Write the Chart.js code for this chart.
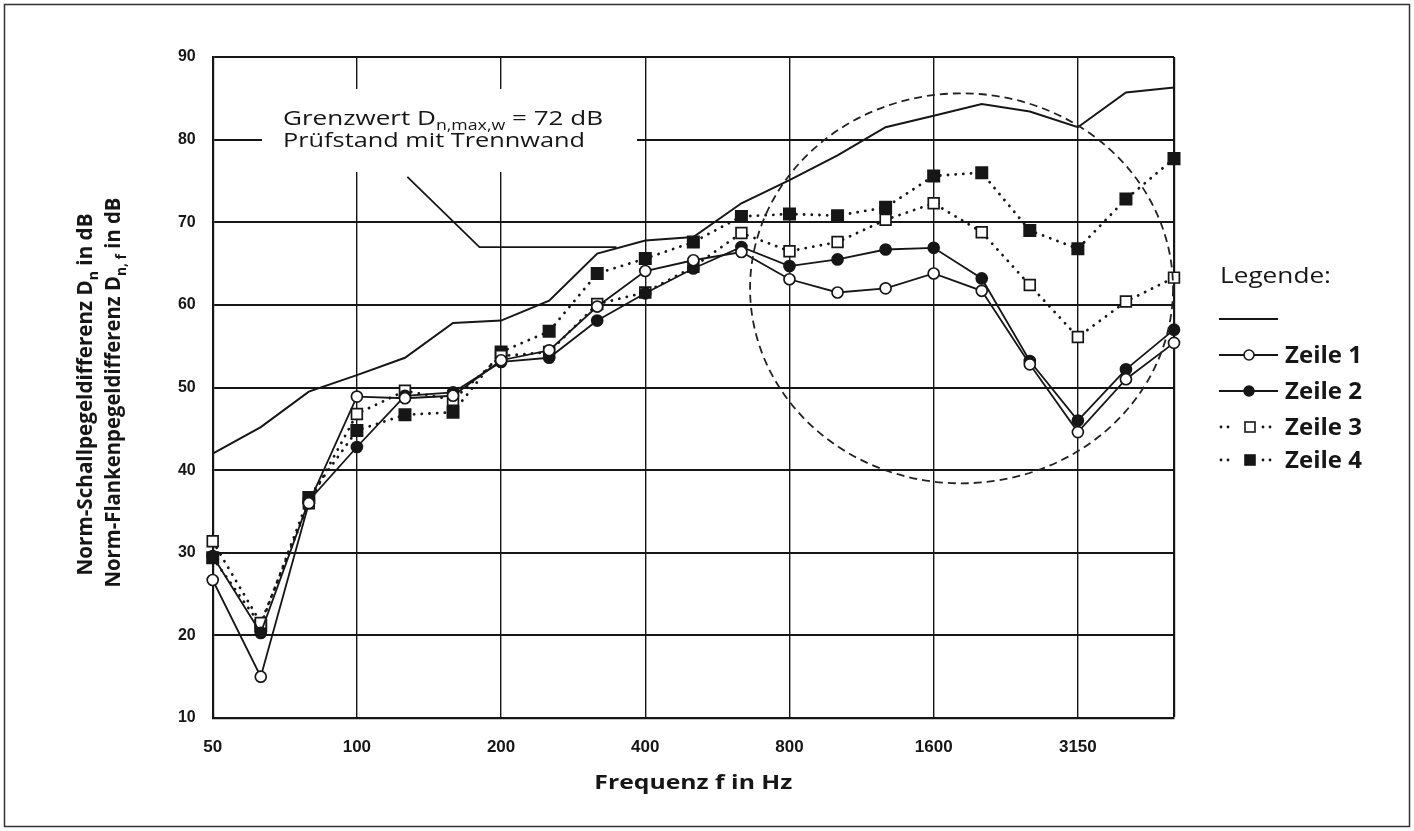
<!DOCTYPE html>
<html>
<head>
<meta charset="utf-8">
<script src="https://cdn.jsdelivr.net/npm/chart.js@4/dist/chart.umd.min.js"></script>
<style>
html,body{margin:0;padding:0;background:#fff;}
#wrap{width:1414px;height:831px;position:relative;}
canvas{display:block;}
</style>
</head>
<body>
<div id="wrap"><canvas id="c" width="1414" height="831"></canvas></div>
<script>
// ---- data (third-octave band centre frequencies) ----
const categories = ['50','63','80','100','125','160','200','250','315','400','500','630','800','1000','1250','1600','2000','2500','3150','4000','5000'];
const shownTickLabels = ['50','100','200','400','800','1600','3150'];
const yTicks = [10,20,30,40,50,60,70,80,90];

const grenzwert = [42.0,45.2,49.5,51.5,53.6,57.8,58.1,60.5,66.2,67.8,68.2,72.3,75.1,78.1,81.5,82.9,84.3,83.4,81.5,85.7,86.3];
const zeile1    = [26.7,15.0,36.0,48.9,48.7,49.0,53.3,54.5,59.8,64.1,65.4,66.4,63.1,61.5,62.0,63.8,61.7,52.8,44.6,51.0,55.4];
const zeile2    = [29.6,20.3,36.3,42.8,49.0,49.4,53.1,53.6,58.1,61.4,64.4,67.0,64.7,65.5,66.7,66.9,63.2,53.2,46.0,52.2,57.0];
const zeile3    = [31.4,21.5,36.0,46.8,49.6,48.5,53.8,54.3,60.1,61.5,64.6,68.7,66.5,67.6,70.3,72.3,68.8,62.4,56.1,60.4,63.3];
const zeile4    = [29.4,21.2,36.7,44.8,46.7,47.0,54.3,56.8,63.8,65.6,67.6,70.7,71.0,70.8,71.8,75.6,76.0,69.0,66.8,72.8,77.7];

// annotation leader line (band index, dB)
const leaderX = [4.05, 5.55, 8.4];
const leaderY = [75.5, 67.0, 67.0];
// highlighted region (dashed ellipse): centre band index, centre dB, radii
const highlight = {cx: 15.58, cy: 62.0, rx: 4.4, ry: 23.6};

const annoLine1 = [{t:'Grenzwert D'},{t:'n,max,w',sub:true},{t:' = 72 dB'}];
const annoLine2 = [{t:'Prüfstand mit Trennwand'}];
const yTitle1 = [{t:'Norm-Schallpegeldifferenz D'},{t:'n',sub:true},{t:' in dB'}];
const yTitle2 = [{t:'Norm-Flankenpegeldifferenz D'},{t:'n, f',sub:true},{t:' in dB'}];
const xTitle = [{t:'Frequenz f in Hz'}];
const legendTitle = 'Legende:';
const legendNames = ['Zeile 1','Zeile 2','Zeile 3','Zeile 4'];

// ---- helpers ----
const INK = '#161616';
const tickIdx = shownTickLabels.map(l => categories.indexOf(l)).concat([categories.length-1]);
const toXY = arr => arr.map((v,i)=>({x:i,y:v}));

function fontStr(size, weight, family){ return `${weight} ${size}px ${family}`; }
function richWidth(ctx, segs, size, weight, family){
  let w=0;
  for(const s of segs){ ctx.font = fontStr(s.sub? size*0.68 : size, weight, family); w += ctx.measureText(s.t).width; }
  return w;
}
function drawRich(ctx, segs, x, y, size, weight, family, targetW, sy){
  const w = richWidth(ctx, segs, size, weight, family);
  const sx = targetW ? targetW / w : 1;
  ctx.save();
  ctx.translate(x, y);
  ctx.scale(sx, sy || 1);
  ctx.textAlign='left'; ctx.textBaseline='alphabetic';
  let cx = 0;
  for(const s of segs){
    const fs = s.sub? size*0.68 : size;
    ctx.font = fontStr(fs, weight, family);
    ctx.fillText(s.t, cx, s.sub ? size*0.27 : 0);
    cx += ctx.measureText(s.t).width;
  }
  ctx.restore();
}

const styles = [
  {label:legendNames[0], data:zeile1, dotted:false, pointStyle:'circle', radius:5.5, fill:'#fff'},
  {label:legendNames[1], data:zeile2, dotted:false, pointStyle:'circle', radius:5.5, fill:INK},
  {label:legendNames[2], data:zeile3, dotted:true,  pointStyle:'rect',   radius:7.6, fill:'#fff'},
  {label:legendNames[3], data:zeile4, dotted:true,  pointStyle:'rect',   radius:8.0, fill:INK},
];

const datasets = styles.map(s => ({
  label: s.label,
  data: toXY(s.data),
  borderColor: INK,
  borderWidth: s.dotted ? 2.8 : 1.8,
  borderDash: s.dotted ? [0.1, 7.6] : [],
  borderCapStyle: s.dotted ? 'round' : 'butt',
  pointStyle: s.pointStyle,
  pointRadius: s.radius,
  pointBackgroundColor: s.fill,
  pointBorderColor: INK,
  pointBorderWidth: 1.7,
  tension: 0,
  fill: false,
  clip: false
}));
datasets.push({
  label:'Grenzwert', data: toXY(grenzwert), borderColor: INK, borderWidth: 2.0,
  pointRadius: 0, tension: 0, fill:false, clip: false
});
datasets.push({
  label:'leader', data: leaderX.map((x,i)=>({x, y:leaderY[i]})), borderColor: INK, borderWidth: 1.8,
  pointRadius: 0, tension: 0, fill:false, clip: false
});

const decor = {
  id: 'decor',
  beforeDatasetsDraw(chart){
    const ctx = chart.ctx;
    // white box behind annotation text (covers grid)
    ctx.save();
    ctx.fillStyle = '#fff';
    ctx.fillRect(262, 89, 375, 83);
    ctx.fillStyle = INK;
    drawRich(ctx, annoLine1, 283, 125, 20, 'normal', '"Open Sans"', 320);
    drawRich(ctx, annoLine2, 283, 147, 20, 'normal', '"Open Sans"', 302);
    ctx.restore();
  },
  afterDatasetsDraw(chart){
    const ctx = chart.ctx, xs = chart.scales.x, ys = chart.scales.y;
    const cx = xs.getPixelForValue(highlight.cx), cy = ys.getPixelForValue(highlight.cy);
    const rx = Math.abs(xs.getPixelForValue(highlight.cx + highlight.rx) - cx);
    const ry = Math.abs(ys.getPixelForValue(highlight.cy + highlight.ry) - cy);
    ctx.save();
    ctx.strokeStyle = '#222'; ctx.lineWidth = 1.8; ctx.setLineDash([8,5]);
    ctx.beginPath(); ctx.ellipse(cx, cy, rx, ry, 0, 0, Math.PI*2); ctx.stroke();
    ctx.restore();
  },
  afterDraw(chart){
    const ctx = chart.ctx, ca = chart.chartArea;
    ctx.save();
    ctx.fillStyle = INK;
    // y-axis title (two rotated lines)
    const cyT = (ca.top + ca.bottom)/2 + 7;
    ctx.save(); ctx.translate(92, cyT); ctx.rotate(-Math.PI/2);
    drawRich(ctx, yTitle1, -181, 0, 19, 'bold', '"Open Sans"', 362, 1.15);
    ctx.restore();
    ctx.save(); ctx.translate(120, cyT - 2); ctx.rotate(-Math.PI/2);
    drawRich(ctx, yTitle2, -195, 0, 19, 'bold', '"Open Sans"', 390, 1.15);
    ctx.restore();
    // x-axis title
    const cxT = (ca.left + ca.right)/2;
    drawRich(ctx, xTitle, cxT - 99, 789, 19, 'bold', '"Open Sans"', 198);
    // legend
    drawRich(ctx, [{t:legendTitle}], 1220, 283, 21, 'normal', '"Open Sans"', 111);
    ctx.strokeStyle = INK; ctx.lineWidth = 2;
    ctx.beginPath(); ctx.moveTo(1219, 319); ctx.lineTo(1278, 319); ctx.stroke();
    const baselines = [363, 399, 435, 468];
    styles.forEach((s, i) => {
      const yb = baselines[i], yc = yb - 8;
      ctx.save();
      ctx.strokeStyle = INK;
      if (s.dotted){
        ctx.fillStyle = INK;
        [1221, 1228, 1263, 1270].forEach(px => { ctx.beginPath(); ctx.arc(px, yc, 1.4, 0, Math.PI*2); ctx.fill(); });
        ctx.lineWidth = 1.6;
        const h = 5;
        ctx.fillStyle = s.fill;
        ctx.fillRect(1250 - h, yc - h, 2*h, 2*h);
        ctx.strokeRect(1250 - h, yc - h, 2*h, 2*h);
      } else {
        ctx.lineWidth = 1.8;
        ctx.beginPath(); ctx.moveTo(1219, yc); ctx.lineTo(1278, yc); ctx.stroke();
        ctx.fillStyle = s.fill; ctx.lineWidth = 1.6;
        ctx.beginPath(); ctx.arc(1249, yc, 5, 0, Math.PI*2); ctx.fill(); ctx.stroke();
      }
      ctx.restore();
      ctx.save(); ctx.fillStyle = INK;
      drawRich(ctx, [{t:s.label}], 1285, yb, 23, 'bold', '"Open Sans"', 77);
      ctx.restore();
    });
    // outer frame
    ctx.strokeStyle = '#333'; ctx.lineWidth = 1.5; ctx.setLineDash([]);
    ctx.strokeRect(4.5, 4.5, 1405, 822);
    ctx.restore();
  }
};

new Chart(document.getElementById('c'), {
  type: 'line',
  data: { datasets },
  options: {
    responsive: false, animation: false, devicePixelRatio: 1,
    layout: { padding: { left: 0, right: 240, top: 57, bottom: 0 } },
    plugins: { legend: { display: false }, tooltip: { enabled: false } },
    scales: {
      x: {
        type: 'linear', min: 0, max: categories.length - 1,
        afterBuildTicks: s => { s.ticks = tickIdx.map(v => ({ value: v })); },
        afterFit: s => { s.height = 113; },
        ticks: {
          autoSkip: false, maxRotation: 0, padding: 19, color: INK,
          font: { family: '"Liberation Sans"', weight: 'bold', size: 17 },
          callback: v => { const i = tickIdx.indexOf(v); return i >= 0 && i < shownTickLabels.length ? shownTickLabels[i] : ''; }
        },
        grid: { color: INK, lineWidth: c => (c.index === tickIdx.length - 1 ? 2.2 : 1.4), drawTicks: false },
        border: { display: true, color: INK, width: 2.2 }
      },
      y: {
        min: 10, max: 90,
        afterBuildTicks: s => { s.ticks = yTicks.map(v => ({ value: v })); },
        afterFit: s => { s.width = 212.7; },
        ticks: { padding: 17, color: INK, font: { family: '"Liberation Sans"', weight: 'bold', size: 16 } },
        grid: { color: INK, lineWidth: 2, drawTicks: false },
        border: { display: true, color: INK, width: 2.2 }
      }
    }
  },
  plugins: [decor]
});
</script>
</body>
</html>
